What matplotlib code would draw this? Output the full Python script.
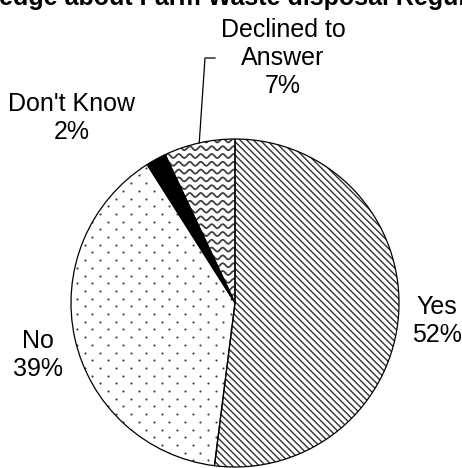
import numpy as np
import matplotlib
matplotlib.use("Agg")
import matplotlib.pyplot as plt
from matplotlib.patches import Wedge

plt.rcParams['font.family'] = ['Liberation Sans', 'DejaVu Sans']
plt.rcParams['hatch.color'] = '#303030'
plt.rcParams['hatch.linewidth'] = 1.0

title = "Knowledge about Farm Waste disposal Regulations"
categories = ["Yes", "No", "Don't Know", "Declined to\nAnswer"]
values = [52, 39, 2, 7]
pct_labels = ["52%", "39%", "2%", "7%"]

W, H = 462, 468
fig = plt.figure(figsize=(W / 100, H / 100), dpi=100)
ax = fig.add_axes([0, 0, 1, 1])

cx, cy, R = 235, H - 303, 164
labels = [f"{c}\n{p}" for c, p in zip(categories, pct_labels)]
wedges, texts = ax.pie(values, labels=labels, startangle=90, counterclock=False,
                       center=(cx, cy), radius=R, labeldistance=1.25,
                       textprops=dict(fontsize=18, ha='center', va='center'),
                       frame=True)
ax.set_xlim(0, W)
ax.set_ylim(0, H)
ax.set_aspect('equal')
ax.axis('off')

# label placements (manually moved, as in the original)
label_pos = [(437, H - 321), (38, H - 355), (72, H - 118), (283, H - 58)]
for t, p in zip(texts, label_pos):
    t.set_position(p)
    t.set_linespacing(1.2)

# styles
for w in wedges:
    w.set_facecolor('white')
    w.set_linewidth(0)
wedges[0].set_hatch('\\\\\\\\\\')
wedges[2].set_facecolor('black')

# dotted pattern for "No"
xs = np.arange(0, W + 16, 15.4)
rows = np.arange(0, H + 8, 7.7)
px, py = [], []
for i, yv in enumerate(rows):
    off = 7.7 if i % 2 else 0
    px.extend(xs + off)
    py.extend([yv] * len(xs))
sc = ax.scatter(px, py, s=2.4, c='#404040', linewidths=0, zorder=3)
sc.set_clip_path(wedges[1])

# wavy pattern for "Declined to Answer"
xw = np.linspace(0, W, 1500)
for yv in np.arange(0, H + 8, 7.8):
    ln, = ax.plot(xw, yv + 2.0 * np.sin(2 * np.pi * xw / 11.0), color='#404040',
                  lw=1.3, zorder=3, solid_capstyle='butt')
    ln.set_clip_path(wedges[3])

# outlines
for w in wedges:
    ax.add_patch(Wedge(w.center, w.r, w.theta1, w.theta2, facecolor='none',
                       edgecolor='black', linewidth=0.9, zorder=4))

# leader line for "Declined to Answer"
w = wedges[3]
ang = np.deg2rad((w.theta1 + w.theta2) / 2)
sx, sy = cx + R * np.cos(ang), cy + R * np.sin(ang)
ax.plot([sx, 205, 215], [sy, H - 58, H - 58], color='black', lw=0.9, zorder=4)

fig.text(0.5, 1 - 5 / H, title, ha='center', va='baseline', fontsize=18,
         fontweight='bold')

fig.savefig('out.png', dpi=100)
